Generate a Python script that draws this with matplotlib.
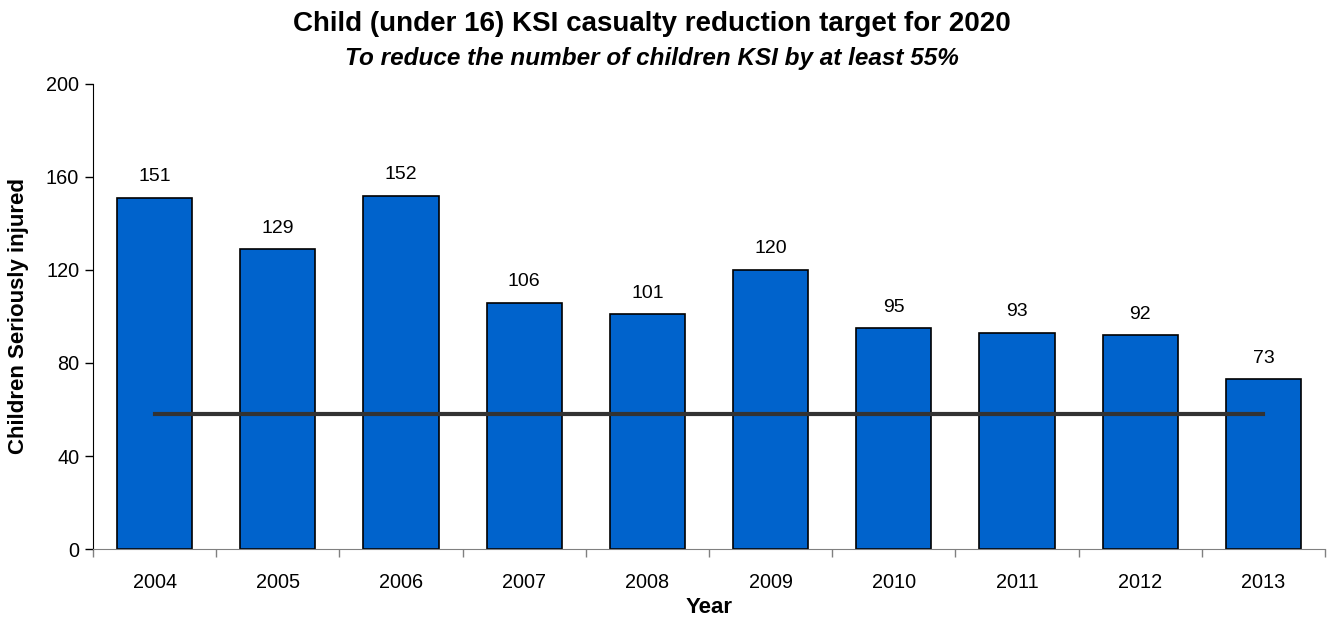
import matplotlib
matplotlib.use("Agg")
import matplotlib.pyplot as plt
import numpy as np

plt.rcParams['font.family'] = ['Liberation Sans', 'DejaVu Sans']

years = ['2004', '2005', '2006', '2007', '2008', '2009', '2010', '2011', '2012', '2013']
casualties = [151, 129, 152, 106, 101, 120, 95, 93, 92, 73]
target = 58
y_ticks = [0, 40, 80, 120, 160, 200]

fig = plt.figure(figsize=(13.33, 6.17), dpi=100)
ax = fig.add_axes([0.0698, 0.1102, 0.9242, 0.7537])

x = np.arange(len(years))
ax.bar(x, casualties, width=0.61, color='#0063CC', edgecolor='black', linewidth=1.2, zorder=2)
ax.plot([x[0], x[-1]], [target, target], color='#333333', linewidth=3, zorder=3)

for xi, v in zip(x, casualties):
    ax.annotate(str(v), (xi, v), xytext=(0, 9), textcoords='offset points',
                ha='center', va='bottom', fontsize=14)

ax.set_xlim(-0.5, len(years) - 0.5)
ax.set_ylim(0, 200)
ax.set_yticks(y_ticks)
ax.tick_params(axis='y', direction='out', length=6, width=1, labelsize=14.3, pad=4)

ax.set_xticks(x)
ax.set_xticklabels(years)
ax.set_xticks(np.arange(-0.5, len(years), 1.0), minor=True)
ax.tick_params(axis='x', which='major', length=0, labelsize=14.3, pad=17)
ax.tick_params(axis='x', which='minor', direction='out', length=6, width=1, color='#808080')

for side in ('top', 'right'):
    ax.spines[side].set_visible(False)
ax.spines['left'].set_color('black')
ax.spines['bottom'].set_color('#808080')

ax.set_ylabel('Children Seriously injured', fontsize=16, fontweight='bold', labelpad=12)
ax.set_xlabel('Year', fontsize=16, fontweight='bold', labelpad=4)

fig.text(0.4888, 1 - 24 / 617, 'Child (under 16) KSI casualty reduction target for 2020',
         ha='center', va='center', fontsize=20, fontweight='bold')
fig.text(0.4888, 1 - 59 / 617, 'To reduce the number of children KSI by at least 55%',
         ha='center', va='center', fontsize=17.5, fontweight='bold', fontstyle='italic')

fig.savefig('out.png', dpi=100)
